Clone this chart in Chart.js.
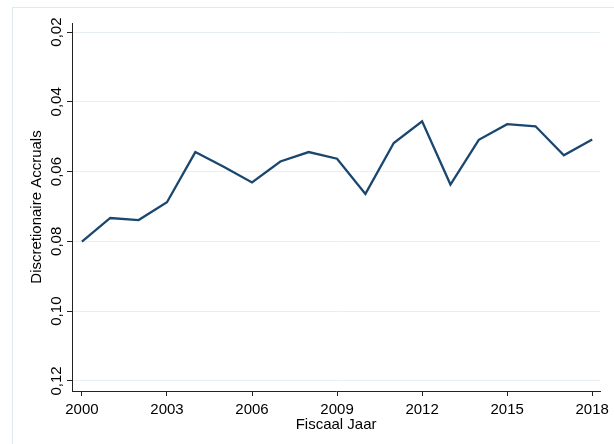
<!DOCTYPE html>
<html>
<head>
<meta charset="utf-8">
<script src="https://cdn.jsdelivr.net/npm/chart.js@4/dist/chart.umd.min.js"></script>
<style>
  html, body { margin: 0; padding: 0; background: #fff; }
  #wrap { width: 614px; height: 444px; position: relative; }
</style>
</head>
<body>
<div id="wrap"><canvas id="c" width="614" height="444"></canvas></div>
<script>
// ── Data ──────────────────────────────────────────────────────────────
const YEARS = [2000, 2001, 2002, 2003, 2004, 2005, 2006, 2007, 2008, 2009,
               2010, 2011, 2012, 2013, 2014, 2015, 2016, 2017, 2018];
const ACCRUALS = [0.0801, 0.0733, 0.0739, 0.0688, 0.0544, 0.0586, 0.0631, 0.0571, 0.0544, 0.0563,
                  0.0664, 0.0518, 0.0456, 0.0637, 0.0509, 0.0464, 0.0470, 0.0553, 0.0508];

const X_TICKS = [2000, 2003, 2006, 2009, 2012, 2015, 2018];
const Y_TICKS = [0.02, 0.04, 0.06, 0.08, 0.10, 0.12];
const Y_TICK_LABELS = ['0,02', '0,04', '0,06', '0,08', '0,10', '0,12'];

const X_TITLE = 'Fiscaal Jaar';
const Y_TITLE = 'Discretionaire Accruals';

const FONT = '"Liberation Sans", Arial, sans-serif';
const FONT_SIZE = 15;
const LINE_COLOR = '#1a476f';
const GRID_COLOR = '#e6eff2';
const AXIS_COLOR = '#222';

// Kader + verticale y-labels (Stata-stijl)
const stataPlugin = {
  id: 'stataDecor',
  beforeDraw(chart) {
    const { ctx } = chart;
    ctx.save();
    ctx.strokeStyle = '#dfeaee';
    ctx.lineWidth = 1;
    ctx.strokeRect(12.5, 7.5, 700, 600);
    ctx.restore();
  },
  afterDraw(chart) {
    const { ctx, scales, chartArea } = chart;
    const y = scales.y;
    ctx.save();
    ctx.fillStyle = '#000';
    ctx.font = FONT_SIZE + 'px ' + FONT;
    ctx.textAlign = 'center';
    ctx.textBaseline = 'middle';
    Y_TICKS.forEach((v, i) => {
      const py = y.getPixelForValue(v);
      ctx.save();
      ctx.translate(57, py);
      ctx.rotate(-Math.PI / 2);
      ctx.fillText(Y_TICK_LABELS[i], 0, 0);
      ctx.restore();
    });
    // as-titel
    ctx.translate(37, (chartArea.top + chartArea.bottom) / 2);
    ctx.rotate(-Math.PI / 2);
    ctx.fillText(Y_TITLE, 0, 0);
    ctx.restore();
  },
};

new Chart(document.getElementById('c'), {
  type: 'line',
  plugins: [stataPlugin],
  data: {
    labels: YEARS,
    datasets: [{
      data: YEARS.map((yr, i) => ({ x: yr, y: ACCRUALS[i] })),
      borderColor: LINE_COLOR,
      borderWidth: 2.3,
      pointRadius: 0,
      tension: 0,
      fill: false,
    }],
  },
  options: {
    responsive: false,
    animation: false,
    layout: { padding: { left: 67, top: 23, right: 8, bottom: 8 } },
    plugins: {
      legend: { display: false },
      tooltip: { enabled: false },
    },
    scales: {
      x: {
        type: 'linear',
        min: 1999.65,
        max: 2018.28,
        afterBuildTicks: s => { s.ticks = X_TICKS.map(v => ({ value: v })); },
        grid: {
          drawOnChartArea: false,
          color: 'transparent',
          tickColor: AXIS_COLOR,
          tickLength: 5,
        },
        border: { display: true, color: AXIS_COLOR, width: 1 },
        ticks: {
          color: '#000',
          font: { family: FONT, size: FONT_SIZE, lineHeight: 1.2 },
          padding: 5,
          maxRotation: 0,
          autoSkip: false,
          callback: v => String(v),
        },
        title: {
          display: true,
          text: X_TITLE,
          color: '#000',
          font: { family: FONT, size: FONT_SIZE, lineHeight: 0.8 },
          padding: { top: -5, bottom: 5 },
        },
      },
      y: {
        type: 'linear',
        reverse: true,
        min: 0.0174,
        max: 0.1229,
        afterBuildTicks: s => { s.ticks = Y_TICKS.map(v => ({ value: v })); },
        grid: {
          color: GRID_COLOR,
          tickColor: AXIS_COLOR,
          tickLength: 5,
        },
        border: { display: true, color: AXIS_COLOR, width: 1 },
        ticks: { display: false },
      },
    },
  },
});
</script>
</body>
</html>
